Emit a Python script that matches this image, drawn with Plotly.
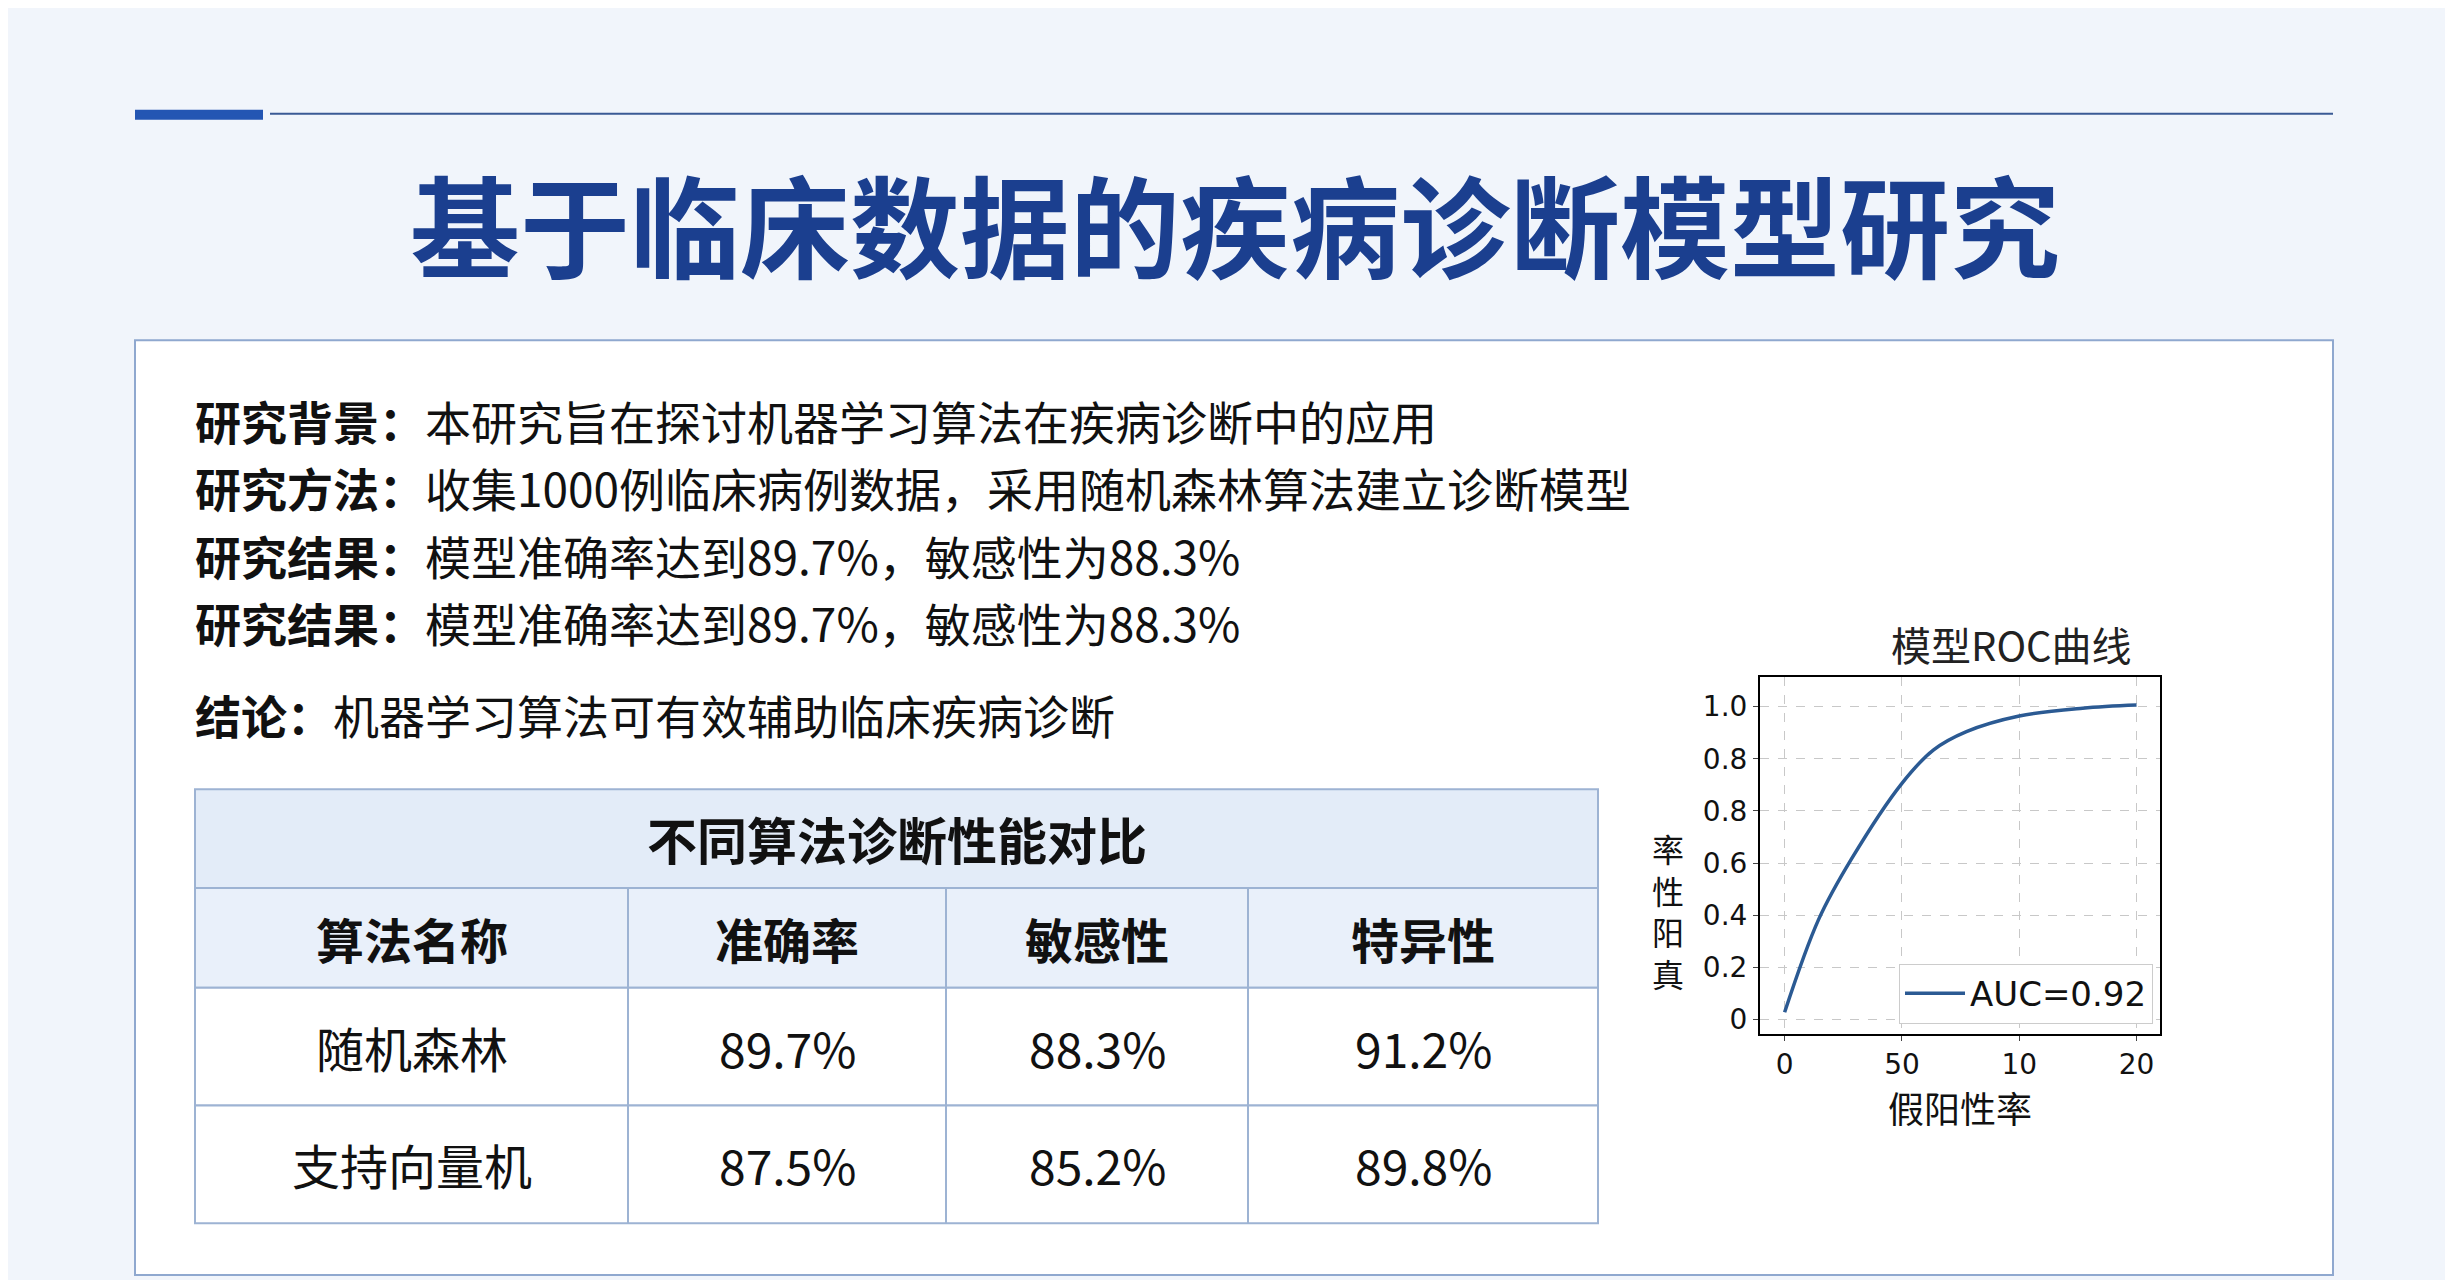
import plotly.graph_objects as go

W, H = 2453, 1280

# 数据
titre = "基于临床数据的疾病诊断模型研究"
lignes = [
    ("研究背景：", "本研究旨在探讨机器学习算法在疾病诊断中的应用"),
    ("研究方法：", "收集1000例临床病例数据，采用随机森林算法建立诊断模型"),
    ("研究结果：", "模型准确率达到89.7%，敏感性为88.3%"),
    ("研究结果：", "模型准确率达到89.7%，敏感性为88.3%"),
    ("结论：", "机器学习算法可有效辅助临床疾病诊断"),
]
table_titre = "不同算法诊断性能对比"
colonnes = ["算法名称", "准确率", "敏感性", "特异性"]
algos = ["随机森林", "支持向量机"]
precision = ["89.7%", "87.5%"]
sensibilite = ["88.3%", "85.2%"]
specificite = ["91.2%", "89.8%"]

# ROC 曲线 (tick index units)
roc_x = [0, 0.29, 0.57, 1.0, 1.27, 1.55, 2.0, 2.54, 3.0]
roc_y = [0.14, 1.92, 3.08, 4.53, 5.17, 5.52, 5.82, 5.97, 6.03]
x_ticks = ["0", "50", "10", "20"]
y_ticks = ["0", "0.2", "0.4", "0.6", "0.8", "0.8", "1.0"]

police = "Noto Sans CJK SC"
bleu = "#1b3f8f"
trait = "#9db3d3"

fig = go.Figure()

fig.add_trace(go.Scatter(x=roc_x, y=roc_y, mode="lines", line=dict(color="#2b5a93", width=3.5, shape="spline"),
                         name="AUC=0.92", xaxis="x", yaxis="y"))

shapes = [
    dict(type="rect", xref="paper", yref="paper", x0=127 / W, x1=255 / W, y0=1 - 102 / H, y1=1 - 112 / H,
         fillcolor="#2456b3", line_width=0),
    dict(type="line", xref="paper", yref="paper", x0=262 / W, x1=2325 / W, y0=1 - 106 / H, y1=1 - 106 / H,
         line=dict(color="#3a5a95", width=2)),
    dict(type="rect", xref="paper", yref="paper", x0=127 / W, x1=2325 / W, y0=1 - 333 / H, y1=1 - 1270 / H,
         fillcolor="white", line=dict(color="#8fa8cf", width=2), layer="below"),
]
ann = []

# 表格
col_x = [187, 620, 938, 1240, 1590]
row_y = [783, 882, 982, 1100, 1218]
fonds = ["#e3ecf8", "#e9f0fa", "white", "white"]
for r in range(4):
    shapes.append(dict(type="rect", xref="paper", yref="paper", x0=col_x[0] / W, x1=col_x[-1] / W,
                       y0=1 - row_y[r] / H, y1=1 - row_y[r + 1] / H, fillcolor=fonds[r],
                       line=dict(color=trait, width=2), layer="below"))
for cx in col_x[1:-1]:
    shapes.append(dict(type="line", xref="paper", yref="paper", x0=cx / W, x1=cx / W,
                       y0=1 - row_y[1] / H, y1=1 - row_y[-1] / H, line=dict(color=trait, width=2)))
ann.append(dict(text="<b>%s</b>" % table_titre, x=(col_x[0] + col_x[-1]) / 2 / W, y=1 - 832 / H,
                xref="paper", yref="paper", showarrow=False, xanchor="center", yanchor="middle",
                font=dict(family=police, size=50, color="#111")))
corps = [colonnes] + [list(r) for r in zip(algos, precision, sensibilite, specificite)]
for r, ligne in enumerate(corps):
    for c, val in enumerate(ligne):
        ann.append(dict(text="<b>%s</b>" % val if r == 0 else val,
                        x=(col_x[c] + col_x[c + 1]) / 2 / W, y=1 - (row_y[r + 1] + row_y[r + 2]) / 2 / H,
                        xref="paper", yref="paper", showarrow=False, xanchor="center", yanchor="middle",
                        font=dict(family=police, size=48, color="#111")))

ann += [dict(text="<b>%s</b>" % titre, x=0.5, y=1 - 215 / H, xref="paper", yref="paper", showarrow=False,
             xanchor="center", yanchor="middle", font=dict(family=police, size=110, color=bleu)),
        dict(text="模型ROC曲线", x=2003 / W, y=1 - 637 / H, xref="paper", yref="paper", showarrow=False,
             xanchor="center", yanchor="middle", font=dict(family=police, size=40, color="#222")),
        dict(text="率<br>性<br>阳<br>真", x=1660 / W, y=1 - 905 / H, xref="paper", yref="paper",
             xanchor="center", yanchor="middle", showarrow=False,
             font=dict(family=police, size=32, color="#111"))]
ys = [413, 480, 548, 615, 708]
for (k, v), yy in zip(lignes, ys):
    ann.append(dict(text="<b>%s</b>%s" % (k, v), x=185 / W, y=1 - yy / H, xref="paper", yref="paper",
                    xanchor="left", yanchor="middle", showarrow=False,
                    font=dict(family=police, size=46, color="#111")))

axe = dict(showline=True, linecolor="black", linewidth=2, mirror=True, ticks="outside", ticklen=5,
           gridcolor="#c8c8c8", griddash="dash", zeroline=False,
           tickfont=dict(family="DejaVu Sans", size=28, color="#111"))
fig.update_layout(
    width=W, height=H, margin=dict(l=0, r=0, t=0, b=0),
    paper_bgcolor="#f1f5fb", plot_bgcolor="white",
    shapes=shapes, annotations=ann,
    xaxis=dict(axe, domain=[1752 / W, 2152 / W], range=[-0.21, 3.2], tickvals=[0, 1, 2, 3], ticktext=x_ticks,
               title=dict(text="假阳性率", font=dict(family=police, size=36, color="#111"), standoff=6)),
    yaxis=dict(axe, domain=[(H - 1028) / H, (H - 671) / H], range=[-0.27, 6.56], tickvals=list(range(7)),
               ticktext=y_ticks),
    showlegend=True,
    legend=dict(x=2145 / W, y=1 - 1018 / H, xref="paper", yref="paper", xanchor="right", yanchor="bottom",
                bgcolor="white", bordercolor="#ccc", borderwidth=1, itemwidth=60,
                font=dict(family="DejaVu Sans", size=34, color="#111")),
)

fig.write_html("out.html")
